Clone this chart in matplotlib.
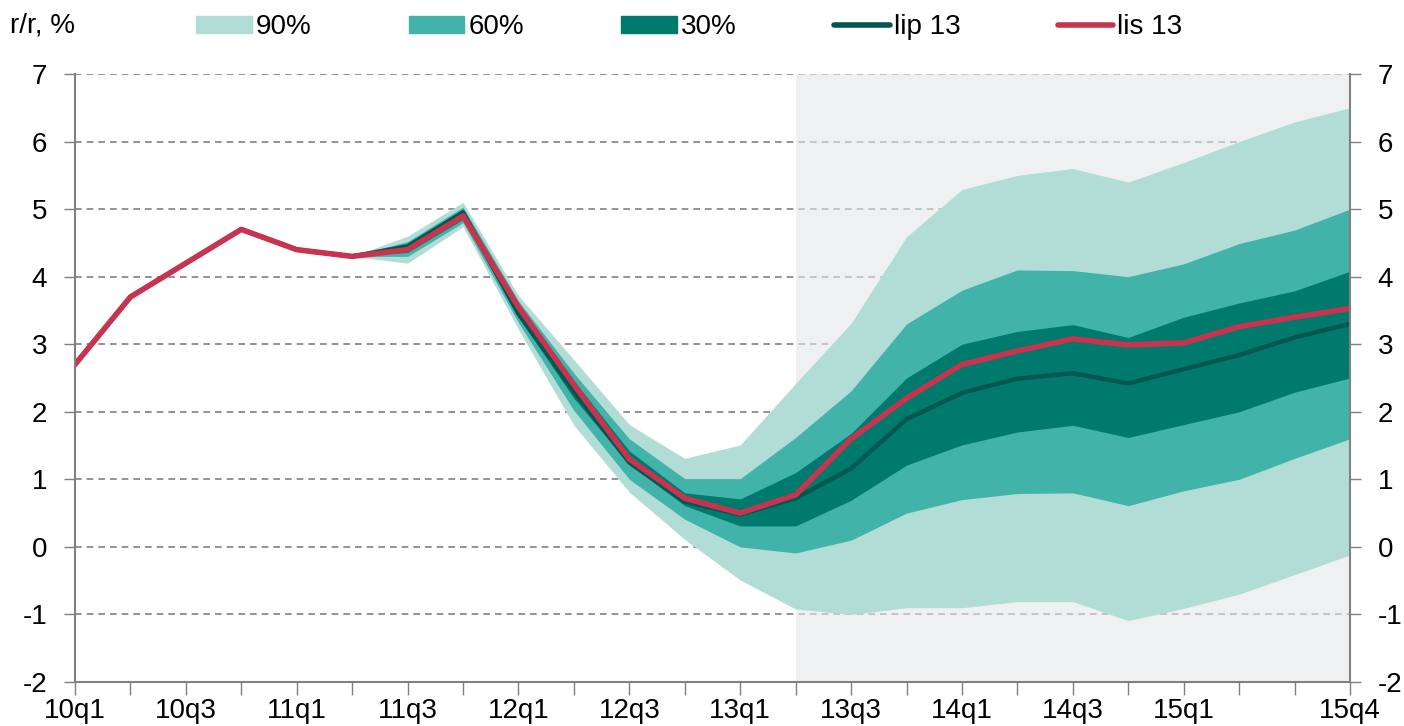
import numpy as np
import matplotlib
matplotlib.use('Agg')
import matplotlib.pyplot as plt
from matplotlib.patches import Patch
from matplotlib.lines import Line2D

plt.rcParams.update({
    'font.family': ['Liberation Sans', 'DejaVu Sans'],
    'font.size': 20,
    'axes.unicode_minus': False,
})

# kwartały 10q1 .. 15q4
quarters = [f'{y}q{q}' for y in range(10, 16) for q in range(1, 5)]
tick_labels = ['10q1', '10q3', '11q1', '11q3', '12q1', '12q3', '13q1',
               '13q3', '14q1', '14q3', '15q1', '15q4']

lis13 = [2.7, 3.7, 4.2, 4.7, 4.4, 4.3, 4.4, 4.9, 3.55, 2.4, 1.3, 0.72,
         0.5, 0.77, 1.6, 2.2, 2.7, 2.9, 3.08, 2.99, 3.02, 3.26, 3.4, 3.53]
lip13 = [2.7, 3.7, 4.2, 4.7, 4.4, 4.3, 4.45, 4.95, 3.45, 2.3, 1.25, 0.67,
         0.48, 0.72, 1.16, 1.89, 2.28, 2.49, 2.57, 2.42, 2.63, 2.84, 3.1, 3.3]

# wachlarz od 11q2
fan_start = '11q2'
p90_hi = [4.3, 4.6, 5.1, 3.72, 2.77, 1.81, 1.31, 1.51, 2.42, 3.31, 4.59,
          5.29, 5.5, 5.6, 5.4, 5.69, 6.0, 6.29, 6.5]
p90_lo = [4.3, 4.2, 4.74, 3.22, 1.8, 0.81, 0.11, -0.49, -0.92, -1.0, -0.9,
          -0.9, -0.81, -0.81, -1.09, -0.91, -0.7, -0.41, -0.12]
p60_hi = [4.3, 4.52, 5.03, 3.64, 2.57, 1.6, 1.01, 1.01, 1.62, 2.31, 3.3,
          3.8, 4.1, 4.09, 4.0, 4.19, 4.49, 4.69, 5.0]
p60_lo = [4.3, 4.3, 4.8, 3.32, 2.02, 1.0, 0.41, 0.0, -0.09, 0.1, 0.5,
          0.7, 0.79, 0.8, 0.61, 0.83, 1.0, 1.31, 1.6]
p30_hi = [4.3, 4.48, 5.0, 3.58, 2.46, 1.42, 0.8, 0.71, 1.1, 1.68, 2.5,
          3.0, 3.19, 3.29, 3.1, 3.4, 3.61, 3.79, 4.08]
p30_lo = [4.3, 4.36, 4.85, 3.4, 2.2, 1.22, 0.61, 0.31, 0.31, 0.69, 1.21,
          1.51, 1.7, 1.8, 1.62, 1.81, 2.0, 2.29, 2.5]

forecast_start = '13q2'

C90 = '#B2DDD6'
C60 = '#42B3A8'
C30 = '#017A6E'
CLIP = '#00574F'
CLIS = '#C8334F'
GREY = '#808080'

x = np.arange(len(quarters))
i0 = quarters.index(fan_start)
xf = x[i0:]

fig = plt.figure(figsize=(14.04, 7.26), dpi=100)
ax = fig.add_axes([75 / 1404, 1 - 682 / 726, 1275 / 1404, 608 / 726])

ax.set_xlim(0, len(quarters) - 1)
ax.set_ylim(-2, 7)

for v in range(-1, 8):
    ax.axhline(v, color=GREY, lw=1.2, ls=(0, (4, 3)), zorder=1)

ax.axvspan(quarters.index(forecast_start), len(quarters) - 1,
           color='#E4E6E9', alpha=0.6, lw=0, zorder=1.5)

ax.fill_between(xf, p90_lo, p90_hi, color=C90, lw=0, zorder=2)
ax.fill_between(xf, p60_lo, p60_hi, color=C60, lw=0, zorder=3)
ax.fill_between(xf, p30_lo, p30_hi, color=C30, lw=0, zorder=4)
ax.plot(x, lip13, color=CLIP, lw=3.2, zorder=5)
ax.plot(x, lis13, color=CLIS, lw=4.0, zorder=6)

ax.set_xticks(x)
ax.set_xticklabels([q if q in tick_labels else '' for q in quarters])
ax.set_yticks(range(-2, 8))
ax.tick_params(axis='x', direction='out', length=9, width=1, color=GREY,
               pad=2.5)
ax.tick_params(axis='y', direction='out', length=8, width=1, color=GREY,
               left=True, right=True, labelleft=True, labelright=True, pad=12)

for side in ['left', 'right', 'bottom']:
    ax.spines[side].set_color(GREY)
    ax.spines[side].set_linewidth(1.5)
    ax.spines[side].set_zorder(7)
ax.spines['top'].set_visible(False)

handles = [
    Patch(color=C90, label='90%'),
    Patch(color=C60, label='60%'),
    Patch(color=C30, label='30%'),
    Line2D([], [], color=CLIP, lw=4, solid_capstyle='round', label='lip 13'),
    Line2D([], [], color=CLIS, lw=4, solid_capstyle='round', label='lis 13'),
]
fig.legend(handles=handles, loc='center left', bbox_to_anchor=(185 / 1404, 1 - 27 / 726),
           ncol=5, frameon=False, fontsize=20, handlelength=2.0, handleheight=0.55,
           handletextpad=0.15, columnspacing=3.5, borderaxespad=0)

fig.text(10 / 1404, 1 - 25 / 726, 'r/r, %', fontsize=20, va='center', ha='left')

fig.savefig('out.png', dpi=100, facecolor='white')
